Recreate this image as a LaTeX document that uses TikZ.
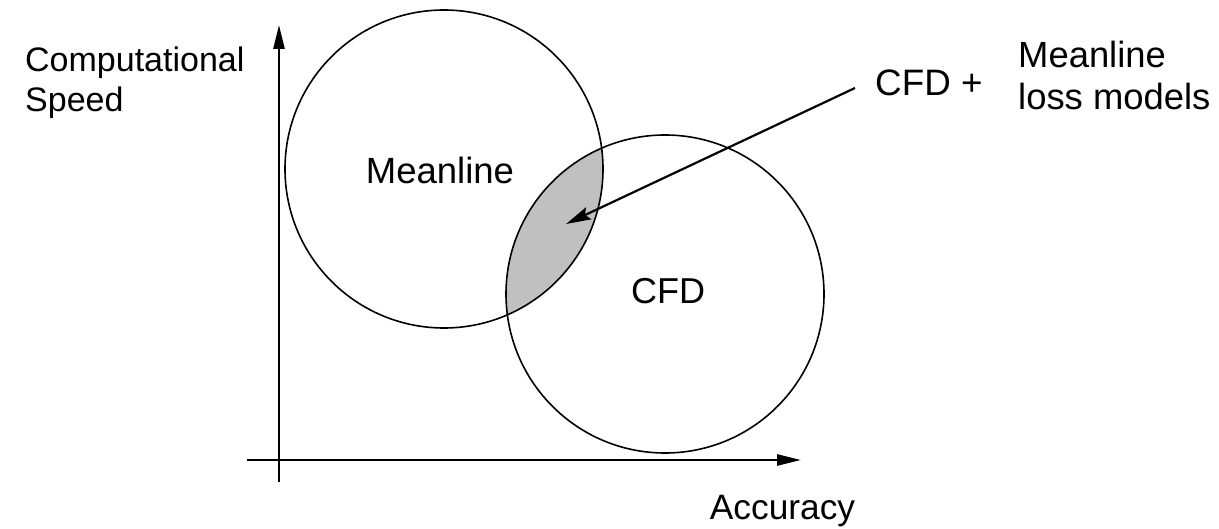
\documentclass[tikz,border=0pt]{standalone}
\usepackage{fontspec}
\setmainfont{Liberation Sans}
\usetikzlibrary{arrows.meta}
\begin{document}
\begin{tikzpicture}[x=1pt,y=-1pt,
  lbl/.style={inner sep=0pt},
  ring/.style={circle, draw=black, line width=1.6pt, minimum size=318pt, inner sep=0pt},
  axis/.style={line width=2.6pt, -{Triangle[length=24pt,width=11pt]}},
  pointer/.style={line width=2.2pt, -{Stealth[length=25pt,width=13pt,inset=4pt]}}]
\useasboundingbox (0,0) rectangle (1219,529);
% shaded intersection
\begin{scope}
  \clip (444,169) circle (159);
  \fill[fill={rgb,255:red,192;green,192;blue,192}] (665,294) circle (159);
\end{scope}
\node[ring] (mean) at (444,169) {};
\node[ring] (cfd) at (665,294) {};
\node[lbl, font=\fontsize{36.5}{42}\selectfont] (meanlbl) at (440,170) {Meanline};
\node[lbl, font=\fontsize{36}{42}\selectfont] (cfdlbl) at (668,291.5) {CFD};
% axes
\coordinate (yb) at (279,482);
\coordinate (yt) at (279,25);
\coordinate (xl) at (247,460);
\coordinate (xr) at (801,460);
\draw[axis] (yb) -- (yt);
\draw[axis] (xl) -- (xr);
\node[lbl, font=\fontsize{34}{40}\selectfont, align=left, anchor=north west] (ylab) at (25,46.7) {Computational\\Speed};
\node[lbl, font=\fontsize{35.3}{42}\selectfont, anchor=base] (xlab) at (782.5,519) {Accuracy};
% combined label
\node[lbl, font=\fontsize{36.8}{42}\selectfont, anchor=west] (cfdplus) at (875,83) {CFD +};
\node[lbl, font=\fontsize{36.4}{42}\selectfont, align=left, anchor=north west] (mll) at (1018,40.5) {Meanline\\loss models};
\coordinate (tip) at (566,224);
\draw[pointer] (855,88) -- (tip);
\end{tikzpicture}
\end{document}
